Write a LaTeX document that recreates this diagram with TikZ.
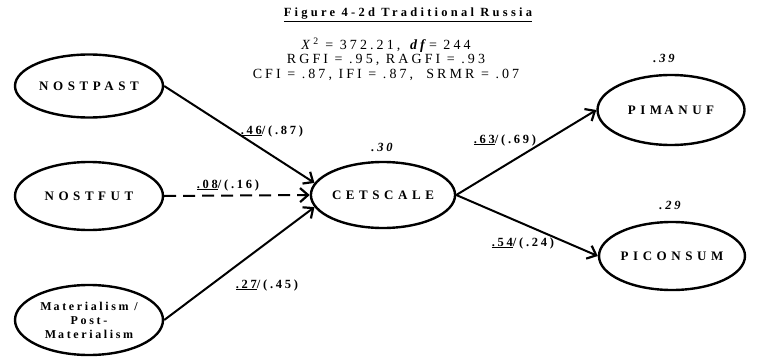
\documentclass[tikz,border=0pt]{standalone}
\usepackage{fontspec}
\setmainfont{Liberation Serif}
\newfontfamily\spaced[LetterSpace=22]{Liberation Serif}
\newfontfamily\headfont[LetterSpace=26]{Liberation Serif}
\newfontfamily\wide[LetterSpace=35]{Liberation Serif}
\usetikzlibrary{arrows.meta,shapes.geometric}

\tikzset{
  latent/.style={draw, ellipse, line width=2.4pt, inner sep=0pt,
    font=\wide\bfseries\fontsize{13}{15}\selectfont, align=center},
  effect/.style={line width=2pt,
    -{Straight Barb[length=8pt,width=14pt,line width=2.2pt]}},
  coef/.style={font=\spaced\bfseries\fontsize{12.5}{14}\selectfont, inner sep=0pt},
  rsq/.style={font=\spaced\bfseries\itshape\fontsize{12.5}{14}\selectfont, inner sep=0pt},
  stats/.style={font=\spaced\fontsize{14}{14.5}\selectfont, align=center, inner sep=0pt}
}

\begin{document}
\begin{tikzpicture}[x=1pt, y=-1pt]
  \useasboundingbox (0,0) rectangle (768,359);

  % heading and fit indices
  \node[font=\headfont\bfseries\fontsize{12.5}{14}\selectfont, inner sep=0pt] (title) at (408,15)
    {\underline{Figure 4-2d Traditional Russia}};
  \node[stats] (fit) at (386,59)
    {\textit{X}\textsuperscript{2} = 372.21, \textbf{\textit{df}}= 244\\
     RGFI = .95, RAGFI = .93\\
     CFI = .87, IFI = .87,\ \ SRMR = .07};

  % latent constructs
  \node[latent, minimum width=148pt, minimum height=63pt] (nostpast) at (89,86) {NOSTPAST};
  \node[latent, minimum width=148pt, minimum height=68pt] (nostfut) at (89,196) {NOSTFUT};
  \node[latent, minimum width=148pt, minimum height=70pt,
        font=\spaced\bfseries\fontsize{12}{14}\selectfont] (mat) at (89,320)
    {M\,aterialism /\\Post-\\M\,aterialism};
  \node[latent, minimum width=143pt, minimum height=66pt] (cet) at (383,195) {CETSCALE};
  \node[latent, minimum width=147pt, minimum height=70pt] (pim) at (671,110) {PIM\,ANUF};
  \node[latent, minimum width=146pt, minimum height=68pt] (picon) at (672,256) {PICONSUM};

  % structural paths
  \draw[effect] (nostpast.east) -- (cet.170);
  \draw[effect, dash pattern=on 12pt off 7pt] (nostfut.east) -- (cet.180);
  \draw[effect] (mat.east) -- (cet.190);
  \draw[effect] (cet.east) -- (pim.west);
  \draw[effect] (cet.east) -- (picon.west);

  % path coefficients
  \node[coef] (c1) at (272,131) {\underline{.46}/(.87)};
  \node[coef] (c2) at (228,185) {\underline{.08}/(.16)};
  \node[coef] (c3) at (267,285) {\underline{.27}/(.45)};
  \node[coef] (c4) at (505,140) {\underline{.63}/(.69)};
  \node[coef] (c5) at (523,243) {\underline{.54}/(.24)};

  % explained variance
  \node[rsq] (r1) at (382,147) {.30};
  \node[rsq] (r2) at (664,58) {.39};
  \node[rsq] (r3) at (670,205) {.29};
\end{tikzpicture}
\end{document}
